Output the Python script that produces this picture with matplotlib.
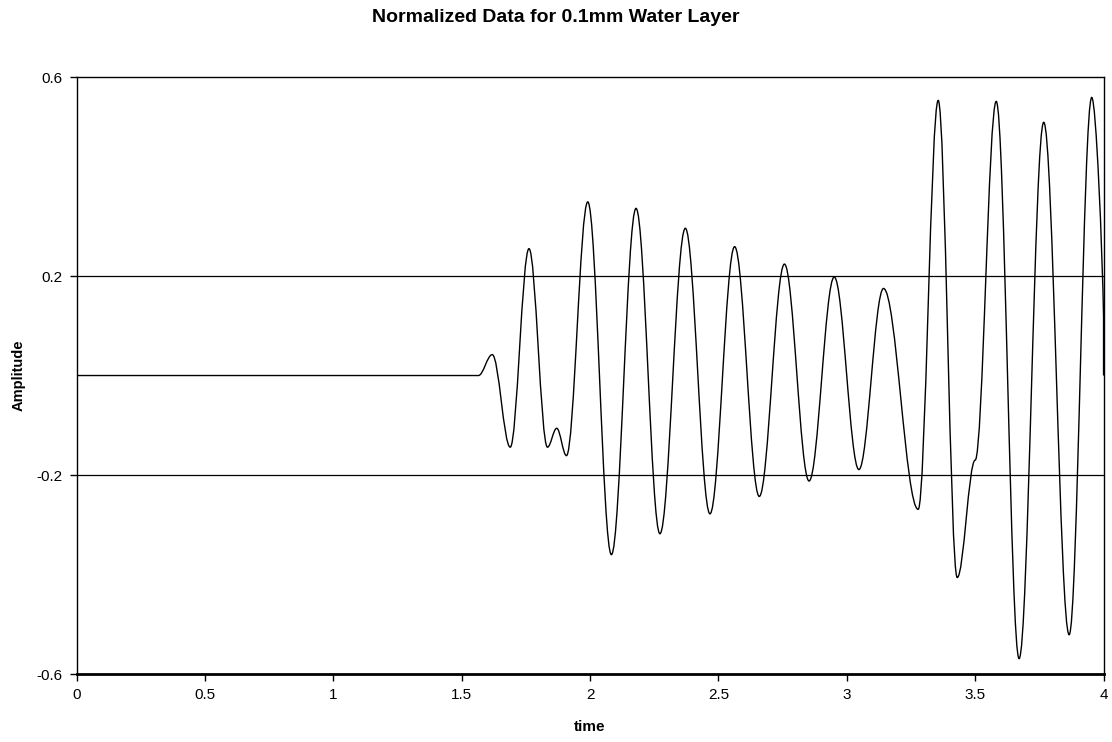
import numpy as np
import matplotlib.pyplot as plt
from matplotlib.path import Path
from matplotlib.patches import PathPatch

plt.rcParams['font.family'] = ['Liberation Sans', 'DejaVu Sans']

# turning points of the trace (time, amplitude)
times = [0.0, 1.565, 1.619, 1.689, 1.762, 1.834, 1.870, 1.908, 1.991, 2.083,
         2.179, 2.272, 2.371, 2.467, 2.563, 2.659, 2.757, 2.853, 2.951, 3.047,
         3.143, 3.278, 3.356, 3.430, 3.500, 3.582, 3.671, 3.767, 3.866, 3.954,
         4.0]
amps = [0.0, 0.0, 0.042, -0.144, 0.255, -0.144, -0.106, -0.161, 0.349, -0.360,
        0.336, -0.318, 0.296, -0.278, 0.259, -0.243, 0.224, -0.212, 0.198, -0.189,
        0.175, -0.269, 0.553, -0.406, -0.170, 0.551, -0.569, 0.509, -0.521, 0.559,
        0.118]
end_value = 0.0

x_ticks = [0, 0.5, 1, 1.5, 2, 2.5, 3, 3.5, 4]
x_labels = ['0', '0.5', '1', '1.5', '2', '2.5', '3', '3.5', '4']
y_ticks = [-0.6, -0.2, 0.2, 0.6]

fig = plt.figure(figsize=(11.12, 7.42), dpi=100)
ax = fig.add_axes([0.0689, 0.0916, 0.9235, 0.8046])

# smooth curve through the turning points (flat tangent at each one)
k = 0.363
verts = [(times[0], amps[0])]
codes = [Path.MOVETO]
for i in range(1, len(times)):
    t0, v0 = times[i - 1], amps[i - 1]
    t1, v1 = times[i], amps[i]
    dt = t1 - t0
    if i == len(times) - 1:
        c2 = (t1 - 0.1 * dt, v1 + 0.3 * (v0 - v1))
    else:
        c2 = (t1 - k * dt, v1)
    verts += [(t0 + k * dt, v0), c2, (t1, v1)]
    codes += [Path.CURVE4] * 3
verts.append((times[-1], end_value))
codes.append(Path.LINETO)
ax.add_patch(PathPatch(Path(verts, codes), facecolor='none',
                       edgecolor='black', lw=1.0, zorder=3))

for g in [-0.2, 0.2]:
    ax.axhline(g, color='black', lw=0.9, zorder=1)

ax.set_xlim(0, 4)
ax.set_ylim(-0.6, 0.6)
ax.set_xticks(x_ticks)
ax.set_xticklabels(x_labels)
ax.set_yticks(y_ticks)
ax.set_yticklabels(['-0.6', '-0.2', '0.2', '0.6'])
ax.tick_params(direction='out', length=5, width=1, labelsize=11, color='black')
ax.tick_params(axis='x', pad=5)
ax.tick_params(axis='y', pad=5)

for side in ['top', 'right', 'left']:
    ax.spines[side].set_linewidth(1.0)
ax.spines['bottom'].set_linewidth(2.0)

ax.set_xlabel('time', fontsize=11, fontweight='bold', labelpad=13)
ax.set_ylabel('Amplitude', fontsize=10.5, fontweight='bold', labelpad=8)
fig.suptitle('Normalized Data for 0.1mm Water Layer', fontsize=14,
             fontweight='bold', y=0.976, va='center')

plt.savefig('out.png', dpi=100)
